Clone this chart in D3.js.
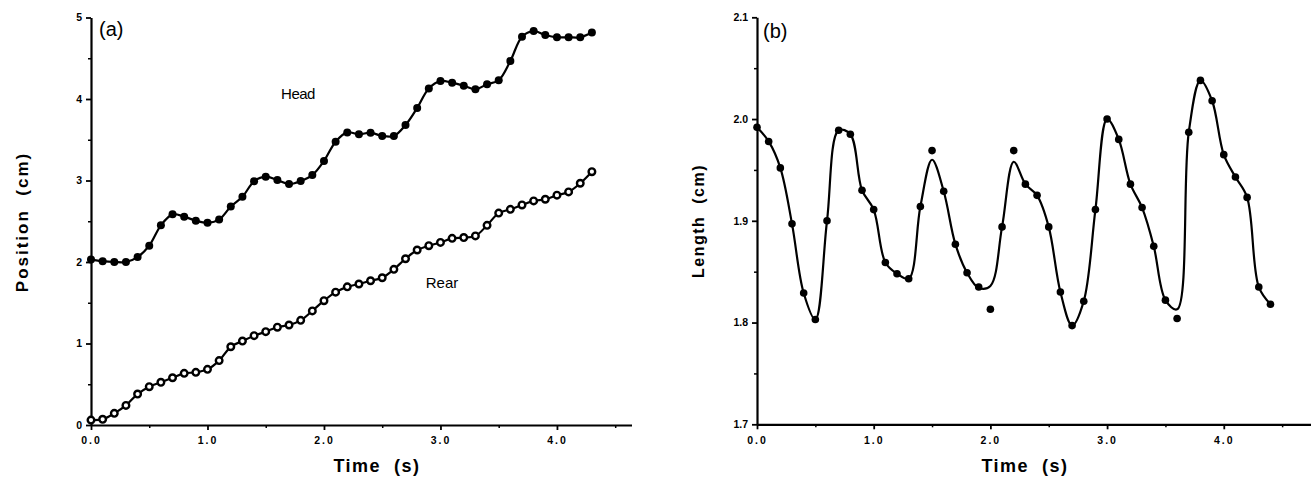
<!DOCTYPE html>
<html><head><meta charset="utf-8">
<script src="https://cdn.jsdelivr.net/npm/d3@7"></script>
<style>
body{margin:0;background:#fff;}
svg{display:block;}
text{font-family:"Liberation Sans",Arial,Helvetica,sans-serif;fill:#000;}
</style></head>
<body><svg id="c" width="1311" height="481"></svg>
<script>
// ---- data ----
const timeA = [0.0,0.1,0.2,0.3,0.4,0.5,0.6,0.7,0.8,0.9,1.0,1.1,1.2,1.3,1.4,1.5,1.6,1.7,1.8,1.9,2.0,2.1,2.2,2.3,2.4,2.5,2.6,2.7,2.8,2.9,3.0,3.1,3.2,3.3,3.4,3.5,3.6,3.7,3.8,3.9,4.0,4.1,4.2,4.3];
const headPos = [2.03,2.01,2.00,2.00,2.06,2.20,2.45,2.585,2.556,2.507,2.482,2.52,2.68,2.80,2.99,3.047,3.006,2.957,2.994,3.067,3.24,3.476,3.59,3.567,3.587,3.546,3.546,3.68,3.89,4.13,4.22,4.20,4.163,4.12,4.18,4.23,4.466,4.765,4.834,4.785,4.757,4.757,4.757,4.815];
const rearPos = [0.06,0.07,0.143,0.24,0.38,0.47,0.524,0.58,0.634,0.646,0.683,0.79,0.96,1.03,1.096,1.145,1.20,1.227,1.284,1.40,1.525,1.63,1.695,1.73,1.77,1.807,1.91,2.04,2.147,2.20,2.24,2.29,2.30,2.32,2.45,2.60,2.646,2.70,2.75,2.77,2.82,2.86,2.966,3.108];
const timeB = [0.0,0.1,0.2,0.3,0.4,0.5,0.6,0.7,0.8,0.9,1.0,1.1,1.2,1.3,1.4,1.5,1.6,1.7,1.8,1.9,2.0,2.1,2.2,2.3,2.4,2.5,2.6,2.7,2.8,2.9,3.0,3.1,3.2,3.3,3.4,3.5,3.6,3.7,3.8,3.9,4.0,4.1,4.2,4.3,4.4];
const lengthPts = [1.992,1.978,1.952,1.897,1.829,1.803,1.900,1.989,1.985,1.930,1.911,1.859,1.848,1.843,1.914,1.969,1.929,1.877,1.849,1.835,1.813,1.894,1.969,1.936,1.925,1.894,1.830,1.797,1.821,1.911,2.000,1.980,1.936,1.913,1.875,1.822,1.804,1.987,2.038,2.018,1.965,1.943,1.923,1.835,1.818];
const lengthFit = [1.992,1.978,1.952,1.897,1.829,1.803,1.900,1.989,1.985,1.930,1.911,1.859,1.848,1.843,1.914,1.960,1.929,1.877,1.849,1.834,1.836,1.894,1.958,1.936,1.925,1.894,1.830,1.797,1.821,1.911,2.000,1.980,1.936,1.913,1.875,1.822,1.813,1.987,2.038,2.018,1.965,1.943,1.923,1.835,1.818];
const xTicks = [0,1,2,3,4];
const xMinor = [0.5,1.5,2.5,3.5,4.5];
const yTicksA = [0,1,2,3,4,5];
const yMinorA = [0.5,1.5,2.5,3.5,4.5];
const yTicksB = [1.7,1.8,1.9,2.0,2.1];
const yMinorB = [1.75,1.85,1.95,2.05];

const svg = d3.select("#c");

function panel(opts){
  const g = svg.append("g");
  const x = d3.scaleLinear().domain(opts.xDomain).range(opts.xRange);
  const y = d3.scaleLinear().domain(opts.yDomain).range(opts.yRange);
  const xm = d3.axisBottom(x).tickValues(xMinor.filter(v=>v<opts.xDomain[1])).tickSize(3).tickFormat("");
  const ym = d3.axisLeft(y).tickValues(opts.yMinor).tickSize(3).tickFormat("");
  g.append("g").attr("transform",`translate(0,${opts.yRange[0]})`).call(xm).call(s=>s.select(".domain").remove()).selectAll("line").attr("stroke-width",1.5);
  g.append("g").attr("transform",`translate(${opts.xRange[0]},0)`).call(ym).call(s=>s.select(".domain").remove()).selectAll("line").attr("stroke-width",1.5);
  const xa = d3.axisBottom(x).tickValues(xTicks).tickSize(5).tickSizeOuter(0).tickPadding(7).tickFormat(d3.format(".1f"));
  const ya = d3.axisLeft(y).tickValues(opts.yTicks).tickSize(5).tickSizeOuter(0).tickPadding(4).tickFormat(opts.yFmt);
  const gx = g.append("g").attr("transform",`translate(0,${opts.yRange[0]})`).call(xa);
  const gy = g.append("g").attr("transform",`translate(${opts.xRange[0]},0)`).call(ya);
  [gx,gy].forEach(a=>{
    a.select(".domain").attr("stroke-width",2.2);
    a.selectAll(".tick line").attr("stroke-width",1.8);
    a.selectAll("text").attr("font-size",10.5).attr("font-weight","bold").attr("font-family","Liberation Sans, Arial, sans-serif");
  });
  gx.selectAll("text").attr("letter-spacing",2);
  return {g,x,y};
}

// ---- panel (a) ----
const A = panel({xDomain:[0,4.64], xRange:[91,631.5], yDomain:[0,5], yRange:[425,17.5],
  yTicks:yTicksA, yMinor:yMinorA, yFmt:d3.format("d")});
const lineA = d3.line().curve(d3.curveCatmullRom.alpha(0.5)).x((d,i)=>A.x(timeA[i])).y(d=>A.y(d));
A.g.append("path").attr("d",lineA(headPos)).attr("fill","none").attr("stroke","#000").attr("stroke-width",2.2);
A.g.append("path").attr("d",lineA(rearPos)).attr("fill","none").attr("stroke","#000").attr("stroke-width",2.2);
A.g.selectAll(".hd").data(headPos).join("circle").attr("cx",(d,i)=>A.x(timeA[i])).attr("cy",d=>A.y(d)).attr("r",4).attr("fill","#000");
A.g.selectAll(".rr").data(rearPos).join("circle").attr("cx",(d,i)=>A.x(timeA[i])).attr("cy",d=>A.y(d)).attr("r",3.3).attr("fill","#fff").attr("stroke","#000").attr("stroke-width",2.4);
A.g.append("text").attr("x",298).attr("y",99).attr("text-anchor","middle").attr("font-size",15).attr("letter-spacing",-0.5).text("Head");
A.g.append("text").attr("x",442).attr("y",288).attr("text-anchor","middle").attr("font-size",15).text("Rear");
A.g.append("text").attr("x",99).attr("y",36).attr("font-size",20).text("(a)");
A.g.append("text").attr("x",377).attr("y",472).attr("text-anchor","middle").attr("font-size",18).attr("font-weight","bold").attr("letter-spacing",1.5).attr("xml:space","preserve").text("Time  (s)");
A.g.append("text").attr("transform","translate(28,222) rotate(-90)").attr("text-anchor","middle").attr("font-size",17).attr("font-weight","bold").attr("letter-spacing",2).attr("xml:space","preserve").text("Position  (cm)");

// ---- panel (b) ----
const B = panel({xDomain:[0,4.75], xRange:[757,1311.3], yDomain:[1.7,2.1], yRange:[424.3,17.3],
  yTicks:yTicksB, yMinor:yMinorB, yFmt:d3.format(".1f")});
const lineB = d3.line().curve(d3.curveCatmullRom.alpha(0.5)).x((d,i)=>B.x(timeB[i])).y(d=>B.y(d));
B.g.append("path").attr("d",lineB(lengthFit)).attr("fill","none").attr("stroke","#000").attr("stroke-width",2.2);
B.g.selectAll(".lp").data(lengthPts).join("circle").attr("cx",(d,i)=>B.x(timeB[i])).attr("cy",d=>B.y(d)).attr("r",3.8).attr("fill","#000");
B.g.append("text").attr("x",763).attr("y",38).attr("font-size",20).text("(b)");
B.g.append("text").attr("x",1025).attr("y",472).attr("text-anchor","middle").attr("font-size",18).attr("font-weight","bold").attr("letter-spacing",1.5).attr("xml:space","preserve").text("Time  (s)");
B.g.append("text").attr("transform","translate(704,221) rotate(-90)").attr("text-anchor","middle").attr("font-size",16).attr("font-weight","bold").attr("letter-spacing",1.5).attr("xml:space","preserve").text("Length  (cm)");
</script></body></html>
